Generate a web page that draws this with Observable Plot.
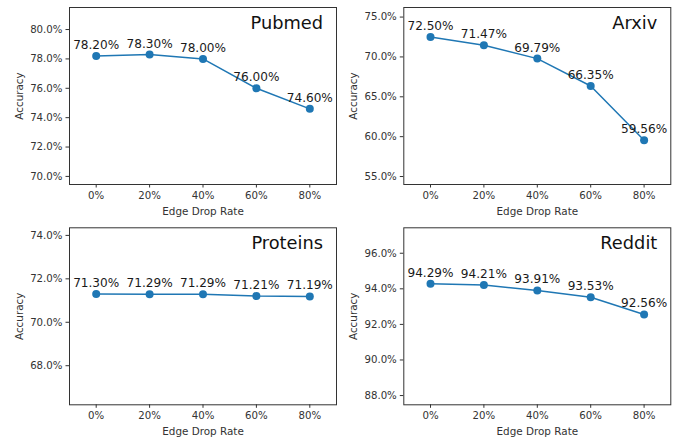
<!DOCTYPE html>
<html>
<head>
<meta charset="utf-8">
<script src="https://cdn.jsdelivr.net/npm/d3@7"></script>
<script src="https://cdn.jsdelivr.net/npm/@observablehq/plot@0.6"></script>
<style>
  html, body { margin: 0; padding: 0; background: white; }
  #fig { position: relative; width: 678px; height: 441px; background: white; overflow: hidden; }
  .panel { position: absolute; }
</style>
</head>
<body>
<div id="fig"></div>
<script>
const rates = [0, 20, 40, 60, 80];
const pubmed = [78.20, 78.30, 78.00, 76.00, 74.60];
const arxiv = [72.50, 71.47, 69.79, 66.35, 59.56];
const proteins = [71.30, 71.29, 71.29, 71.21, 71.19];
const reddit = [94.29, 94.21, 93.91, 93.53, 92.56];

const pubmedTicks = [70, 72, 74, 76, 78, 80];
const arxivTicks = [55, 60, 65, 70, 75];
const proteinsTicks = [68, 70, 72, 74];
const redditTicks = [88, 90, 92, 94, 96];

const xTicks = [0, 20, 40, 60, 80];
const titles = ["Pubmed", "Arxiv", "Proteins", "Reddit"];

const panels = [
  {title: titles[0], values: pubmed, ticks: pubmedTicks, domain: [69.45, 81.5], left: 0, top: 0, ml: 69, mr: 3, mt: 7, mb: 36},
  {title: titles[1], values: arxiv, ticks: arxivTicks, domain: [54.0, 76.2], left: 339, top: 0, ml: 64.3, mr: 7.7, mt: 7, mb: 36},
  {title: titles[2], values: proteins, ticks: proteinsTicks, domain: [66.2, 74.35], left: 0, top: 220, ml: 69, mr: 3, mt: 7.3, mb: 35.7},
  {title: titles[3], values: reddit, ticks: redditTicks, domain: [87.48, 97.43], left: 339, top: 220, ml: 64.3, mr: 7.7, mt: 7.3, mb: 35.7}
];

const fig = document.getElementById("fig");
const blue = "#1f77b4";
const font = "DejaVu Sans";

for (const p of panels) {
  const data = rates.map((r, i) => ({rate: r, acc: p.values[i]}));
  const chart = Plot.plot({
    width: 339,
    height: 220,
    marginLeft: p.ml,
    marginRight: p.mr,
    marginTop: p.mt,
    marginBottom: p.mb,
    style: {fontFamily: font, fontSize: "10.2px", color: "#333", background: "white"},
    x: {domain: [-10, 90]},
    y: {domain: p.domain},
    marks: [
      Plot.axisX({ticks: xTicks, tickFormat: d => d + "%", tickSize: 3.5, tickPadding: 3.5, label: null, stroke: "#333", fill: "#333", fontSize: 10.2}),
      Plot.axisY({ticks: p.ticks, tickFormat: d => d.toFixed(1) + "%", tickSize: 3.5, tickPadding: 3.5, label: null, stroke: "#333", fill: "#333", fontSize: 10.2}),
      Plot.frame({stroke: "#333", strokeWidth: 1}),
      Plot.line(data, {x: "rate", y: "acc", stroke: blue, strokeWidth: 1.5}),
      Plot.dot(data, {x: "rate", y: "acc", r: 4, fill: blue, stroke: "none"}),
      Plot.text(data, {x: "rate", y: "acc", text: d => d.acc.toFixed(2) + "%", lineAnchor: "bottom", dy: -7, fontSize: 12.1, fill: "#1a1a1a"}),
      Plot.text([p.title], {text: d => d, frameAnchor: "top-right", textAnchor: "end", lineAnchor: "top", dx: -13.5, dy: 8.5, fontSize: 17.8, fill: "#111"}),
      Plot.text(["Accuracy"], {text: d => d, frameAnchor: "left", rotate: -90, dx: -50, lineAnchor: "middle", textAnchor: "middle", fontSize: 10.4, fill: "#333"}),
      Plot.text(["Edge Drop Rate"], {text: d => d, frameAnchor: "bottom", dy: 27, lineAnchor: "middle", textAnchor: "middle", fontSize: 10.4, fill: "#333"})
    ]
  });
  chart.classList.add("panel");
  chart.style.left = p.left + "px";
  chart.style.top = p.top + "px";
  fig.appendChild(chart);
}
</script>
</body>
</html>
